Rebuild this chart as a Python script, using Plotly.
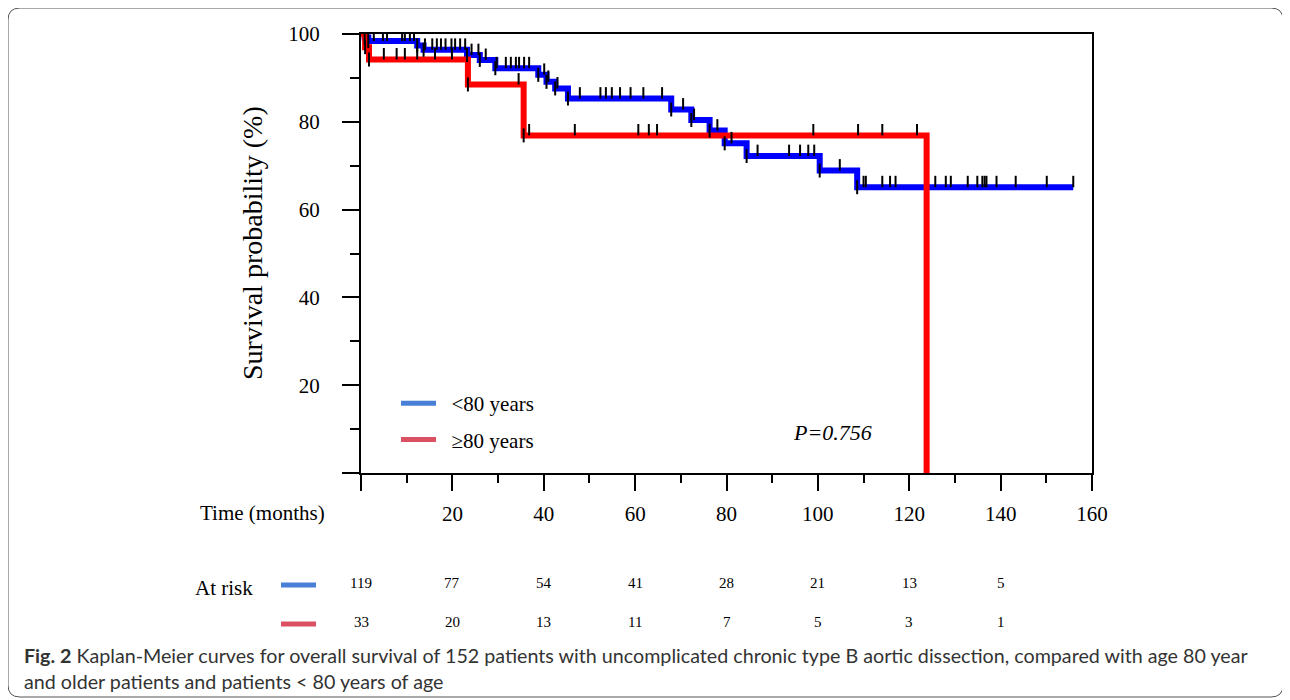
import plotly.graph_objects as go

# ---------------- data ----------------
blue_t = [0, 0.8, 1.6, 12.3, 13.7, 23.2, 26.0, 29.4, 38.8, 40.6, 42.5, 45.3,
          67.9, 72.3, 76.3, 79.6, 84.4, 100.4, 108.6, 155.9]
blue_s = [100, 99.2, 98.4, 97.4, 96.4, 95.2, 94.1, 92.2, 90.7, 89.1, 87.6, 85.3,
          82.8, 80.4, 78.0, 75.1, 72.2, 68.9, 65.1, 65.1]
red_t = [0, 0.9, 1.75, 23.4, 35.6, 123.8]
red_s = [100, 97.0, 94.2, 88.5, 76.9, 0]

blue_cens = [2.8, 4.8, 5.7, 9.0, 9.6, 10.7, 11.6, 14.0, 15.6, 16.6, 17.5, 18.5, 19.8,
             20.6, 21.7, 22.8, 24.2, 25.7, 27.3, 29.7, 31.7, 32.8, 33.9, 34.6, 35.7,
             36.8, 40.1, 41.0, 43.0, 47.9, 52.4, 53.6, 54.9, 56.7, 59.0, 61.8, 65.9,
             70.5, 72.9, 78.0, 81.1, 86.8, 93.7, 96.1, 97.9, 99.2, 104.8, 110.0, 110.5,
             114.1, 115.8, 117.0, 125.7, 128.0, 129.1, 132.8, 134.9, 136.0, 136.5,
             136.9, 139.1, 143.3, 150.1, 155.9]
red_cens = [5.0, 7.8, 9.6, 12.3, 16.2, 19.9, 34.5, 36.8, 46.8, 60.7, 63.0, 64.8,
            99.0, 108.8, 114.1, 121.7]

risk_times = [0, 20, 40, 60, 80, 100, 120, 140]
risk_blue = [119, 77, 54, 41, 28, 21, 13, 5]
risk_red = [33, 20, 13, 11, 7, 5, 3, 1]

x_ticks = [0, 20, 40, 60, 80, 100, 120, 140, 160]
x_labels = ["", "20", "40", "60", "80", "100", "120", "140", "160"]
y_ticks = [0, 20, 40, 60, 80, 100]
y_labels = ["", "20", "40", "60", "80", "100"]

group_names = ["<80 years", "\u226580 years"]

# ---------------- style ----------------
OFF = 8  # page body margin
W, H = 1290, 700
L, T, PW, PH = 361 - OFF, 34 - OFF, 731, 439
SERIF = "Liberation Serif, Times New Roman, serif"
CAP_FONT = "Lato, Open Sans, sans-serif"
BLUE, RED = "#0000ff", "#ff0000"
BLUE_L, RED_L = "#4a7fd8", "#dc5064"
CENS_H = 2.6
NB = "\u00a0\u00a0"


def px(x):
    # page pixel x -> paper fraction
    return (x - OFF - L) / PW


def py(y):
    # page pixel y -> paper fraction
    return (T + PH - (y - OFF)) / PH


def surv_at(t, times, vals):
    v = vals[0]
    for ti, vi in zip(times, vals):
        if ti <= t:
            v = vi
    return v


def drops(times, vals):
    xs, ys = [], []
    for i in range(1, len(times)):
        if vals[i] < vals[i - 1] and vals[i] > 0:
            xs.append(times[i])
            ys.append(vals[i])
    return xs, ys


fig = go.Figure()

for t, s, c in [(blue_t, blue_s, BLUE), (red_t, red_s, RED)]:
    fig.add_trace(go.Scatter(x=t, y=s, mode="lines", line=dict(color=c, width=6, shape="hv"),
                             showlegend=False, hoverinfo="skip"))

for t, s, cens in [(blue_t, blue_s, blue_cens), (red_t, red_s, red_cens)]:
    cy = [surv_at(c, t, s) for c in cens]
    fig.add_trace(go.Scatter(
        x=cens, y=cy, mode="markers", marker=dict(size=1, color="rgba(0,0,0,0)"),
        error_y=dict(type="data", symmetric=False, array=[CENS_H] * len(cens),
                     arrayminus=[0] * len(cens), width=0, thickness=2, color="black"),
        showlegend=False, hoverinfo="skip"))
    dx, dy = drops(t, s)
    fig.add_trace(go.Scatter(
        x=dx, y=dy, mode="markers",
        marker=dict(symbol="line-ns", size=10, line=dict(width=2, color="black")),
        showlegend=False, hoverinfo="skip"))

for name, c, g in [(group_names[0], BLUE_L, "a"), (group_names[1], RED_L, "b")]:
    fig.add_trace(go.Scatter(x=[None], y=[None], mode="lines", name=NB + name, legendgroup=g,
                             line=dict(color=c, width=5)))

axis_common = dict(showline=True, linecolor="black", linewidth=2, mirror=True,
                   ticks="outside", tickcolor="black", tickwidth=2,
                   showgrid=False, zeroline=False,
                   tickfont=dict(family=SERIF, size=21, color="black"))

fig.update_xaxes(range=[0, 160], tickvals=x_ticks, ticktext=x_labels, ticklen=16,
                 ticklabelstandoff=5,
                 minor=dict(dtick=10, tick0=0, ticks="outside", ticklen=8, tickwidth=2,
                            tickcolor="black"),
                 **axis_common)
fig.update_yaxes(range=[0, 100], tickvals=y_ticks, ticktext=y_labels, ticklen=17,
                 ticklabelstandoff=18,
                 minor=dict(dtick=10, tick0=0, ticks="outside", ticklen=9, tickwidth=2,
                            tickcolor="black"),
                 **axis_common)

ann = []


def add_text(x, y, text, size, xref="paper", xanchor="center", family=SERIF, color="black",
             angle=0):
    ann.append(dict(x=x, y=y, xref=xref, yref="paper", text=text, textangle=angle,
                    xanchor=xanchor, yanchor="middle", showarrow=False,
                    font=dict(family=family, size=size, color=color)))


add_text(px(252), py(243), "Survival probability (%)", 28, angle=-90)
add_text(px(262), py(513), "Time (months)", 21)
add_text((832 - 361) / 731 * 160, py(432), "<i>P=0.756</i>", 22, xref="x")
add_text(px(224), py(588), "At risk", 21)
for t, nb, nr in zip(risk_times, risk_blue, risk_red):
    add_text(t, py(583), str(nb), 15, xref="x")
    add_text(t, py(622), str(nr), 15, xref="x")

add_text(px(22), py(655),
         "<b>Fig. 2</b> Kaplan-Meier curves for overall survival of 152 patients with uncomplicated chronic type B aortic dissection, compared with age 80 year",
         19.7, xanchor="left", family=CAP_FONT, color="#333333")
add_text(px(22), py(681), "and older patients and patients < 80 years of age",
         19.7, xanchor="left", family=CAP_FONT, color="#333333")

shapes = []
for yy, c in [(585, BLUE_L), (624, RED_L)]:
    shapes.append(dict(type="line", xref="paper", yref="paper", x0=px(281), x1=px(316),
                       y0=py(yy), y1=py(yy), line=dict(color=c, width=5)))

# rounded frame
x0, y0, x1, y1, r = 8, 8, 1283, 697, 12
path = (f"M {px(x0 + r)},{py(y0)} L {px(x1 - r)},{py(y0)} Q {px(x1)},{py(y0)} {px(x1)},{py(y0 + r)} "
        f"L {px(x1)},{py(y1 - r)} Q {px(x1)},{py(y1)} {px(x1 - r)},{py(y1)} "
        f"L {px(x0 + r)},{py(y1)} Q {px(x0)},{py(y1)} {px(x0)},{py(y1 - r)} "
        f"L {px(x0)},{py(y0 + r)} Q {px(x0)},{py(y0)} {px(x0 + r)},{py(y0)} Z")
shapes.append(dict(type="path", xref="paper", yref="paper", path=path,
                   line=dict(color="#555555", width=1)))

fig.update_layout(
    width=W, height=H,
    margin=dict(l=L, r=W - L - PW, t=T, b=H - T - PH, autoexpand=False),
    paper_bgcolor="white", plot_bgcolor="white",
    annotations=ann, shapes=shapes,
    legend=dict(x=px(396), y=py(383), xanchor="left", yanchor="top",
                font=dict(family=SERIF, size=21, color="black"),
                bgcolor="rgba(0,0,0,0)", tracegroupgap=6, itemwidth=35),
)

fig.write_html("out.html")
